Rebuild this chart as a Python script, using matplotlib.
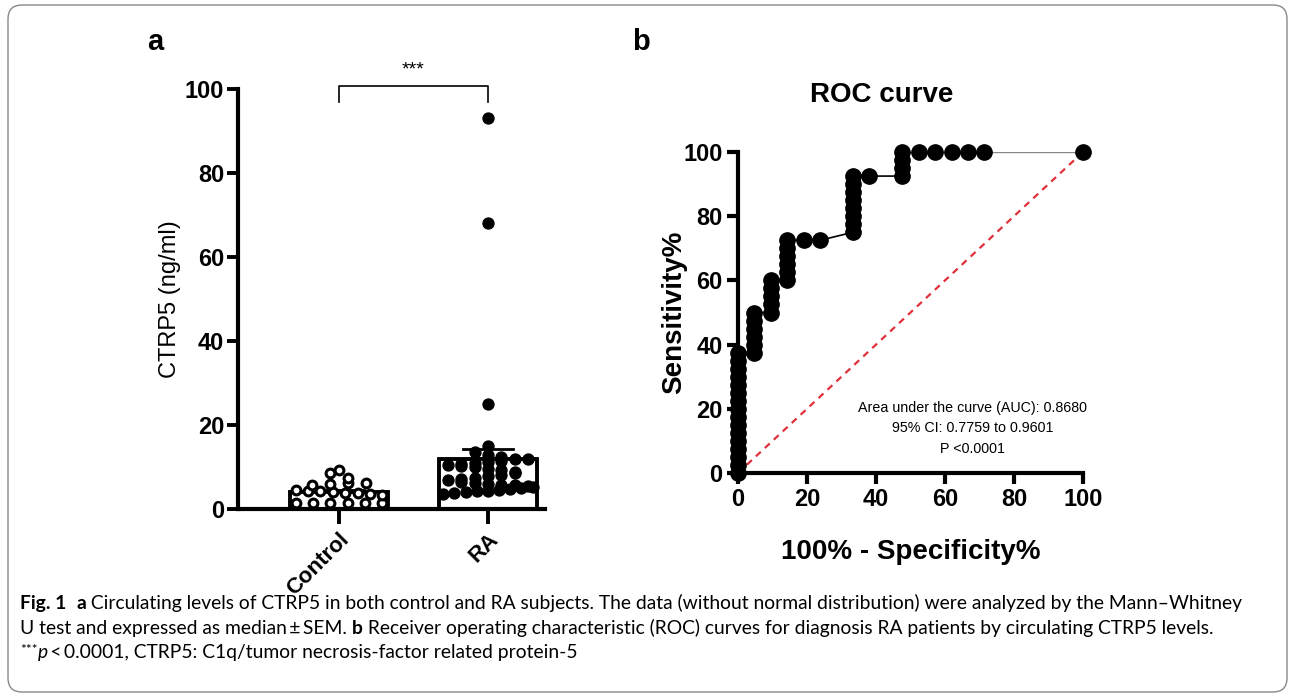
import numpy as np
import matplotlib.pyplot as plt
from matplotlib.patches import FancyBboxPatch

# ---- data ----
groups = ['Control', 'RA']
control_vals = [1.5, 1.5, 1.5, 1.5, 1.5, 1.5,
                3.3, 3.6, 3.8, 3.9, 4.0, 4.2, 4.4, 4.5,
                5.8, 6.0, 6.2, 6.3, 7.5, 8.5, 9.3]
ra_vals = [93, 68, 25, 15, 13.5, 12.8, 12.5, 12.0, 11.8, 11.5, 11.3, 11.0,
           10.8, 10.5, 10.2, 10.0, 9.6, 9.2, 8.8, 8.5, 8.2, 7.8, 7.5, 7.2,
           6.8, 6.5, 6.2, 6.0, 5.8, 5.6, 5.4, 5.2, 5.0, 4.8, 4.6, 4.4,
           4.2, 4.0, 3.8, 3.6]
bar_heights = [4.0, 11.8]
bar_errors = [0.6, 2.6]

roc_fpr = [0, 0, 0, 0, 0, 0, 0, 0, 0, 0, 0, 0, 0, 0, 0, 0,
           4.76, 4.76, 4.76, 4.76, 4.76, 4.76,
           9.52, 9.52, 9.52, 9.52, 9.52,
           14.29, 14.29, 14.29, 14.29, 14.29, 14.29,
           19.05, 23.81,
           33.33, 33.33, 33.33, 33.33, 33.33, 33.33, 33.33, 33.33,
           38.10,
           47.62, 47.62, 47.62, 47.62,
           52.38, 57.14, 61.90, 66.67, 71.43, 100]
roc_tpr = [0, 2.5, 5, 7.5, 10, 12.5, 15, 17.5, 20, 22.5, 25, 27.5, 30, 32.5, 35, 37.5,
           37.5, 40, 42.5, 45, 47.5, 50,
           50, 52.5, 55, 57.5, 60,
           60, 62.5, 65, 67.5, 70, 72.5,
           72.5, 72.5,
           75, 77.5, 80, 82.5, 85, 87.5, 90, 92.5,
           92.5,
           92.5, 95, 97.5, 100,
           100, 100, 100, 100, 100, 100]
auc_text = ['Area under the curve (AUC): 0.8680',
            '95% CI: 0.7759 to 0.9601',
            'P <0.0001']

W, H = 1295, 697
plt.rcParams['font.family'] = ['Liberation Sans', 'DejaVu Sans']
fig = plt.figure(figsize=(W / 100, H / 100), dpi=100)


def swarm_x(vals, center, width, tol, gap):
    # arrange points in rows, spread sideways like a Prism scatter
    order = np.argsort(vals)
    xs = np.zeros(len(vals))
    rows, cur, start = [], [], None
    for i in order:
        v = vals[i]
        if start is None or v - start > tol:
            if cur:
                rows.append(cur)
            cur, start = [i], v
        else:
            cur.append(i)
    rows.append(cur)
    for r, row in enumerate(rows):
        n = len(row)
        step = min(gap, width / max(n - 1, 1))
        offs = (np.arange(n) - (n - 1) / 2) * step
        if n > 1 and r % 2:
            offs = offs[::-1]
        for j, i in enumerate(row):
            xs[i] = center + offs[j]
    return xs


# ---- panel a ----
axa = fig.add_axes([238 / W, 1 - 509 / H, (545 - 238) / W, (509 - 89) / H])
xpos = np.arange(len(groups))
axa.bar(xpos, bar_heights, width=0.66, color='white', edgecolor='black',
        linewidth=2.8, zorder=1)
for xp, h, e in zip(xpos, bar_heights, bar_errors):
    axa.plot([xp, xp], [h, h + e], color='black', lw=2, zorder=2)
    axa.plot([xp - 0.17, xp + 0.17], [h + e, h + e], color='black', lw=2, zorder=2)

cx = swarm_x(np.array(control_vals), xpos[0], 0.58, 1.3, 0.12)
axa.scatter(cx, control_vals, s=40, facecolor='white', edgecolor='black',
            linewidth=2.2, zorder=3, clip_on=False)
rx = swarm_x(np.array(ra_vals), xpos[1], 0.6, 1.6, 0.09)
axa.scatter(rx, ra_vals, s=62, color='black', zorder=3, clip_on=False)

axa.set_xlim(-0.678, 1.383)
axa.set_ylim(0, 100)
axa.set_yticks([0, 20, 40, 60, 80, 100])
axa.set_xticks(xpos)
axa.set_xticklabels(groups, rotation=45, ha='right', rotation_mode='anchor',
                    fontsize=16, fontweight='bold')
for lab in axa.get_yticklabels():
    lab.set_fontweight('bold')
axa.tick_params(axis='y', labelsize=17, width=2.8, length=8, pad=2)
axa.tick_params(axis='x', width=2.8, length=11, pad=3)
for s in ['top', 'right']:
    axa.spines[s].set_visible(False)
for s in ['left', 'bottom']:
    axa.spines[s].set_linewidth(3)
axa.set_ylabel('CTRP5 (ng/ml)', fontsize=17, labelpad=3)

# significance bracket
axa.plot([0, 0, 1, 1], [97.0, 100.8, 100.8, 97.0], color='black', lw=1.2,
         clip_on=False)
axa.text(0.5, 102.5, '***', ha='center', va='bottom', fontsize=14)

# ---- panel b ----
axb = fig.add_axes([738 / W, 1 - 473 / H, (1083 - 738) / W, (473 - 152) / H])
axb.plot([0, 100], [0, 100], color='#e0303a', lw=1.6, ls=(0, (3, 2.5)))
axb.plot(roc_fpr[:-1], roc_tpr[:-1], color='black', lw=1.2, zorder=2)
axb.plot(roc_fpr[-2:], roc_tpr[-2:], color='#888888', lw=1.0, zorder=2)
axb.plot(roc_fpr, roc_tpr, ls='none', marker='o', ms=11, color='black',
         zorder=3, clip_on=False)
axb.set_xlim(0, 100)
axb.set_ylim(0, 100)
axb.set_xticks([0, 20, 40, 60, 80, 100])
axb.set_yticks([0, 20, 40, 60, 80, 100])
for lab in axb.get_xticklabels() + axb.get_yticklabels():
    lab.set_fontweight('bold')
axb.tick_params(labelsize=17, width=3, length=8, pad=3)
for s in ['top', 'right']:
    axb.spines[s].set_visible(False)
for s in ['left', 'bottom']:
    axb.spines[s].set_linewidth(3)
axb.set_xlabel('100% - Specificity%', fontsize=20, fontweight='bold', labelpad=20)
axb.set_ylabel('Sensitivity%', fontsize=20, fontweight='bold', labelpad=-3)
for k, t in enumerate(auc_text):
    fig.text(973 / W, 1 - (408 + k * 20.5) / H, t, ha='center', va='center',
             fontsize=10.3)
fig.text(882 / W, 1 - 95 / H, 'ROC curve', ha='center', va='center',
         fontsize=20, fontweight='bold')

# panel letters
fig.text(155 / W, 1 - 42 / H, 'a', ha='center', va='center', fontsize=21,
         fontweight='bold')
fig.text(641 / W, 1 - 42 / H, 'b', ha='center', va='center', fontsize=21,
         fontweight='bold')

# ---- frame ----
frame = FancyBboxPatch((8 / 100, 5 / 100), 1279 / 100, 687 / 100,
                       boxstyle='round,pad=0,rounding_size=0.14',
                       transform=fig.dpi_scale_trans, facecolor='none',
                       edgecolor='#888888', lw=1.0)
fig.patches.append(frame)

# ---- caption ----
cap_font = ['Lato', 'DejaVu Sans']
renderer = fig.canvas.get_renderer()
N, B, I = {}, {'weight': 'bold'}, {'style': 'italic'}


def run_width(txt, size, kw):
    t = fig.text(0, 0, txt, fontsize=size, family=cap_font,
                 fontweight=kw.get('weight', 'normal'),
                 fontstyle=kw.get('style', 'normal'))
    w = t.get_window_extent(renderer).width
    t.remove()
    return w


def draw_runs(x, y, runs, size):
    for txt, kw in runs:
        sz = size * kw.get('scale', 1.0)
        fig.text(x / W, 1 - (y - kw.get('dy', 0)) / H, txt, fontsize=sz,
                 family=cap_font, fontweight=kw.get('weight', 'normal'),
                 fontstyle=kw.get('style', 'normal'), va='baseline', ha='left')
        x += run_width(txt.replace(' ', '\u00a0'), sz, kw)


line1 = [('Fig. 1', B), ('  ', N), ('a', B),
         (' Circulating levels of CTRP5 in both control and RA subjects. The data '
          '(without normal distribution) were analyzed by the Mann\u2013Whitney', N)]
line2 = [('U test and expressed as median\u2009\u00b1\u2009SEM. ', N), ('b', B),
         (' Receiver operating characteristic (ROC) curves for diagnosis RA '
          'patients by circulating CTRP5 levels.', N)]
line3 = [('***', {'scale': 0.7, 'dy': 4}), ('p', I),
         ('\u2009<\u20090.0001, CTRP5: C1q/tumor necrosis-factor related protein-5', N)]

# fit the first caption line to its width in the reference
base = 12.0
w1 = sum(run_width(t.replace(' ', '\u00a0'), base, k) for t, k in line1)
cap_size = base * (1240 - 20) / w1
draw_runs(20, 609, line1, cap_size)
draw_runs(20, 634, line2, cap_size)
draw_runs(20, 658, line3, cap_size)

fig.savefig('out.png', dpi=100)
